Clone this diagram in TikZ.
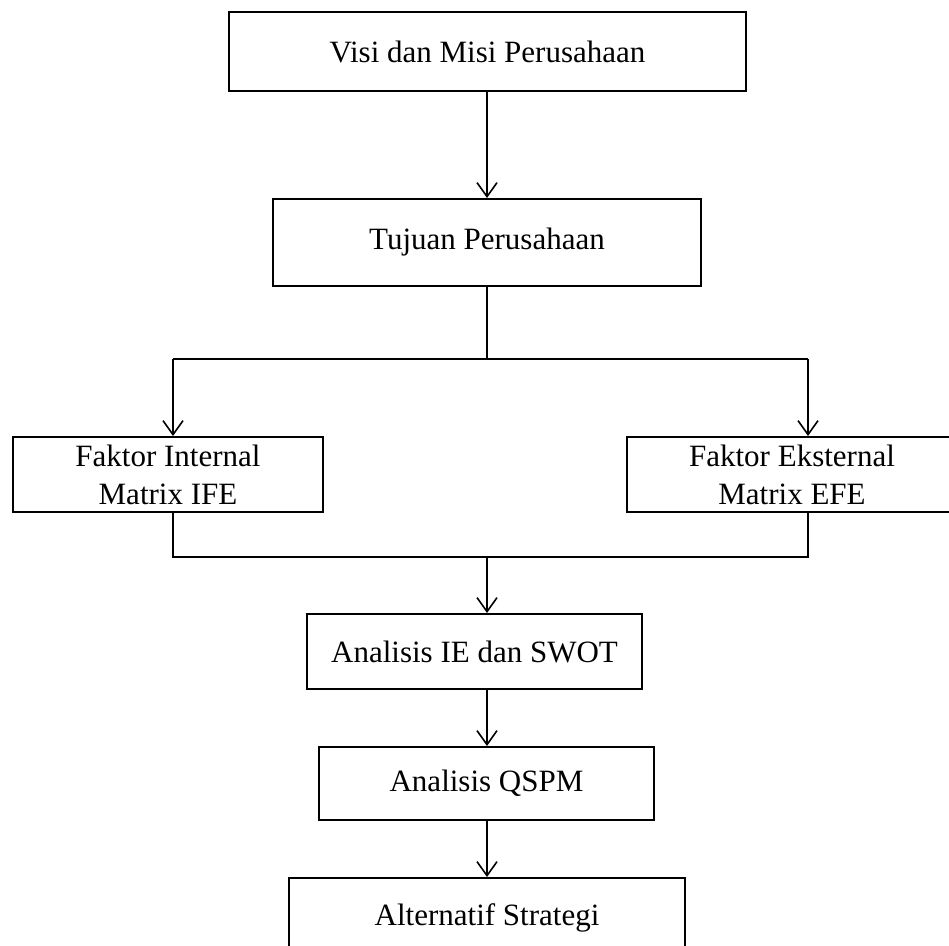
\documentclass[tikz,border=0pt]{standalone}
\usepackage{fontspec}
\setmainfont{Liberation Serif}
\usetikzlibrary{arrows.meta}
\begin{document}
\begin{tikzpicture}[x=1bp,y=-1bp,
  box/.style={draw=black, line width=2bp, fill=white, inner sep=0pt, align=center,
    font=\fontsize{31bp}{38bp}\selectfont},
  conn/.style={draw=black, line width=1.6bp},
  arr/.style={conn, -{Straight Barb[length=14bp,width=20bp,line width=1.6bp]}}]
\clip (0,0) rectangle (949,946);
\fill[white] (0,0) rectangle (949,946);
\node[box, minimum width=517bp, minimum height=79bp] (visi) at (487.5,51.5) {Visi dan Misi Perusahaan};
\node[box, minimum width=428bp, minimum height=87bp] (tujuan) at (487,242.5) {Tujuan Perusahaan};
\node[box, minimum width=310bp, minimum height=75bp] (internal) at (168,474.5) {Faktor Internal\\Matrix IFE};
\node[box, minimum width=330bp, minimum height=75bp] (eksternal) at (792,474.5) {Faktor Eksternal\\Matrix EFE};
\node[box, minimum width=335bp, minimum height=75bp] (swot) at (474.5,651.5) {Analisis IE dan SWOT};
\node[box, minimum width=335bp, minimum height=73bp] (qspm) at (486.5,783.5) {Analisis QSPM};
\node[box, minimum width=396bp, minimum height=80bp] (alt) at (487,918) {Alternatif Strategi};
\coordinate (split) at (487,359);
\coordinate (sl) at (173,359);
\coordinate (sr) at (808,359);
\coordinate (ml) at (173,557);
\coordinate (mr) at (808,557);
\coordinate (merge) at (487,557);
\draw[arr] (merge |- visi.south) -- (merge |- tujuan.north);
\draw[conn] (merge |- tujuan.south) -- (split);
\draw[conn] (sl) -- (sr);
\draw[arr] (sl) -- (sl |- internal.north);
\draw[arr] (sr) -- (sr |- eksternal.north);
\draw[conn] (sl |- internal.south) -- (ml) -- (mr) -- (sr |- eksternal.south);
\draw[arr] (merge) -- (merge |- swot.north);
\draw[arr] (merge |- swot.south) -- (merge |- qspm.north);
\draw[arr] (merge |- qspm.south) -- (merge |- alt.north);
\end{tikzpicture}
\end{document}
